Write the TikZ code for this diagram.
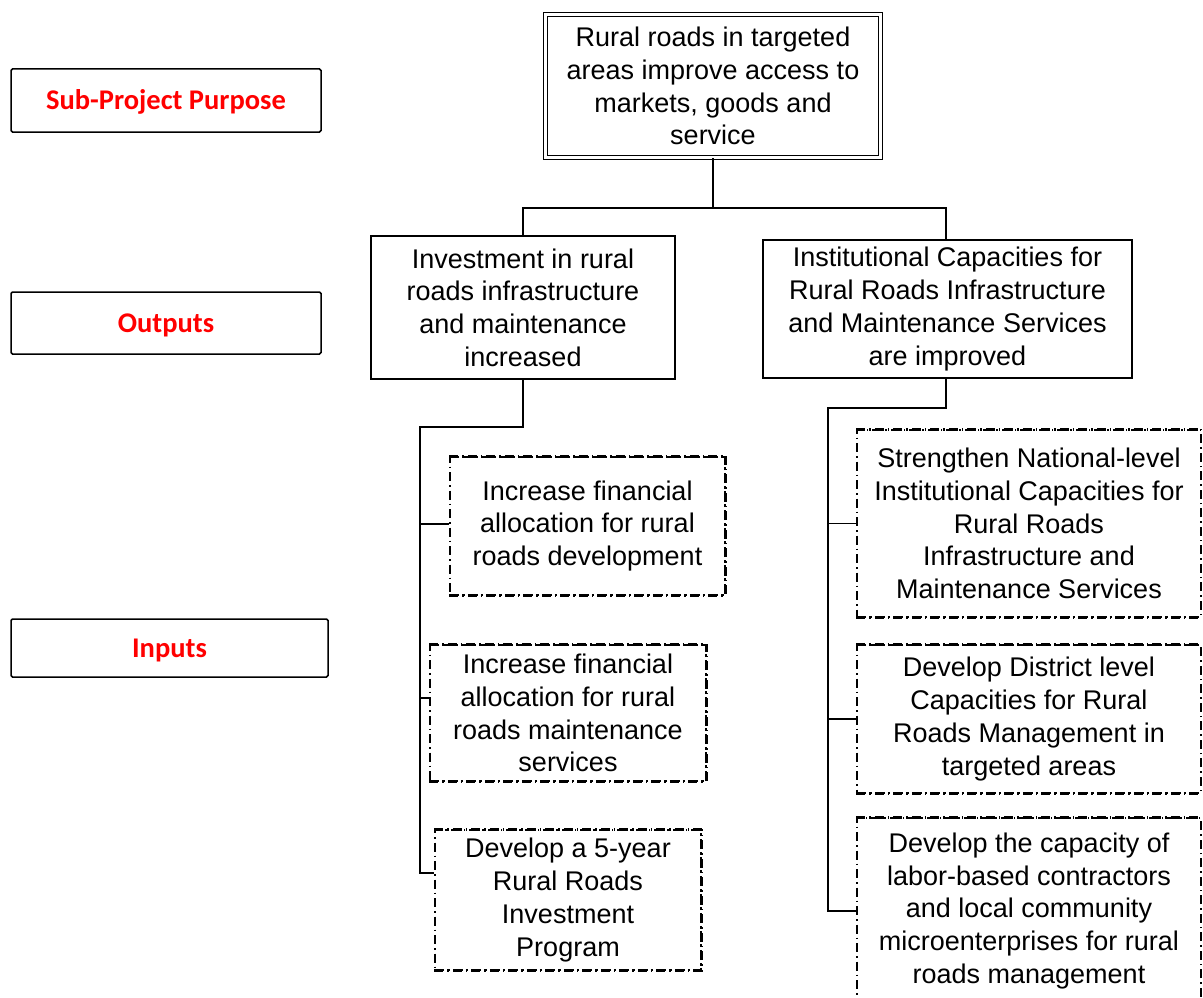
\documentclass[tikz,border=0pt]{standalone}
\usepackage{fontspec}
\setmainfont{Liberation Sans}
\newfontfamily\lblfont{Carlito}
\begin{document}
\begin{tikzpicture}[x=1pt,y=-1pt,
  sz/.style 2 args={minimum width=#1pt, minimum height=#2pt},
  box/.style={draw, line width=1.3pt, inner sep=0pt, align=center,
    font=\fontsize{27}{32.7}\selectfont},
  topbox/.style={box, line width=1pt, double, double distance=3pt},
  inbox/.style={box, line width=1.1pt, dash pattern=on 9pt off 4pt on 1.5pt off 4pt},
  inshade/.style={line width=2.4pt, dash pattern=on 9pt off 4pt on 1.5pt off 4pt},
  lbl/.style={draw, line width=1.5pt, rounded corners=1.5pt, inner sep=0pt,
    text height=19pt, text depth=0pt,
    text=red, font=\lblfont\bfseries\fontsize{28.5}{30}\selectfont},
  conn/.style={line width=1.4pt}]
\useasboundingbox (0,0) rectangle (1203,998);
\clip (0,0) rectangle (1203,998);

% left labels
\node[lbl, sz={310}{63}] (lp) at (166,100.5) {Sub-Project Purpose};
\node[lbl, sz={310}{62}] (lo) at (166,323) {Outputs};
\node[lbl, sz={317}{58}] (li) at (169.5,648) {Inputs};

% purpose
\node[topbox, sz={335}{143}] (top) at (713,86) {Rural roads in targeted\\areas improve access to\\markets, goods and\\service};

% outputs
\node[box, sz={304}{143}] (out1) at (523,307.5) {Investment in rural\\roads infrastructure\\and maintenance\\increased};
\node[box, sz={369}{138}] (out2) at (947.5,309) {Institutional Capacities for\\Rural Roads Infrastructure\\and Maintenance Services\\are improved};

% inputs left
\node[inbox, sz={275}{138}] (in1) at (587.5,526) {Increase financial\\allocation for rural\\roads development};
\node[inbox, sz={276}{136}] (in2) at (568,713) {Increase financial\\allocation for rural\\roads maintenance\\services};
\node[inbox, sz={266}{140}] (in3) at (568,900) {Develop a 5-year\\Rural Roads\\Investment\\Program};

% inputs right
\node[inbox, sz={344}{187}] (r1) at (1029,523.5) {Strengthen National-level\\Institutional Capacities for\\Rural Roads\\Infrastructure and\\Maintenance Services};
\node[inbox, sz={344}{148}] (r2) at (1029,719) {Develop District level\\Capacities for Rural\\Roads Management in\\targeted areas};
\node[inbox, sz={344}{186}] (r3) at (1029,911) {Develop the capacity of\\labor-based contractors\\and local community\\microenterprises for rural\\roads management};

% shadow edges
\foreach \n in {in1,in2,in3}
  \draw[inshade] (\n.south west) -- (\n.south east) -- (\n.north east);
\foreach \n in {in1,in2,in3,r1,r2,r3}
  \draw[inshade] (\n.north west) -- (\n.north east);
\foreach \n in {r1,r2,r3}
  \draw[inshade] (\n.south west) -- (\n.south east);

% connectors top -> outputs
\coordinate (tb) at (713,208);
\draw[conn] (top.south) -- (tb) -| (out1.north);
\draw[conn] (tb) -| ([xshift=-1.5pt]out2.north);

% left bus
\coordinate (lb) at (420,427);
\draw[conn] (out1.south) |- (lb) |- ([yshift=27pt]in3.west);
\draw[conn] ([yshift=2pt]lb |- in1.west) -- ([yshift=2pt]in1.west);
\draw[conn] ([yshift=15pt]lb |- in2.west) -- ([yshift=15pt]in2.west);

% right bus
\coordinate (rb) at (828,408);
\draw[conn] ([xshift=-1.5pt]out2.south) |- (rb) |- (r3.west);
\draw[conn] (rb |- r1.west) -- (r1.west);
\draw[conn] (rb |- r2.west) -- (r2.west);
\end{tikzpicture}
\end{document}
